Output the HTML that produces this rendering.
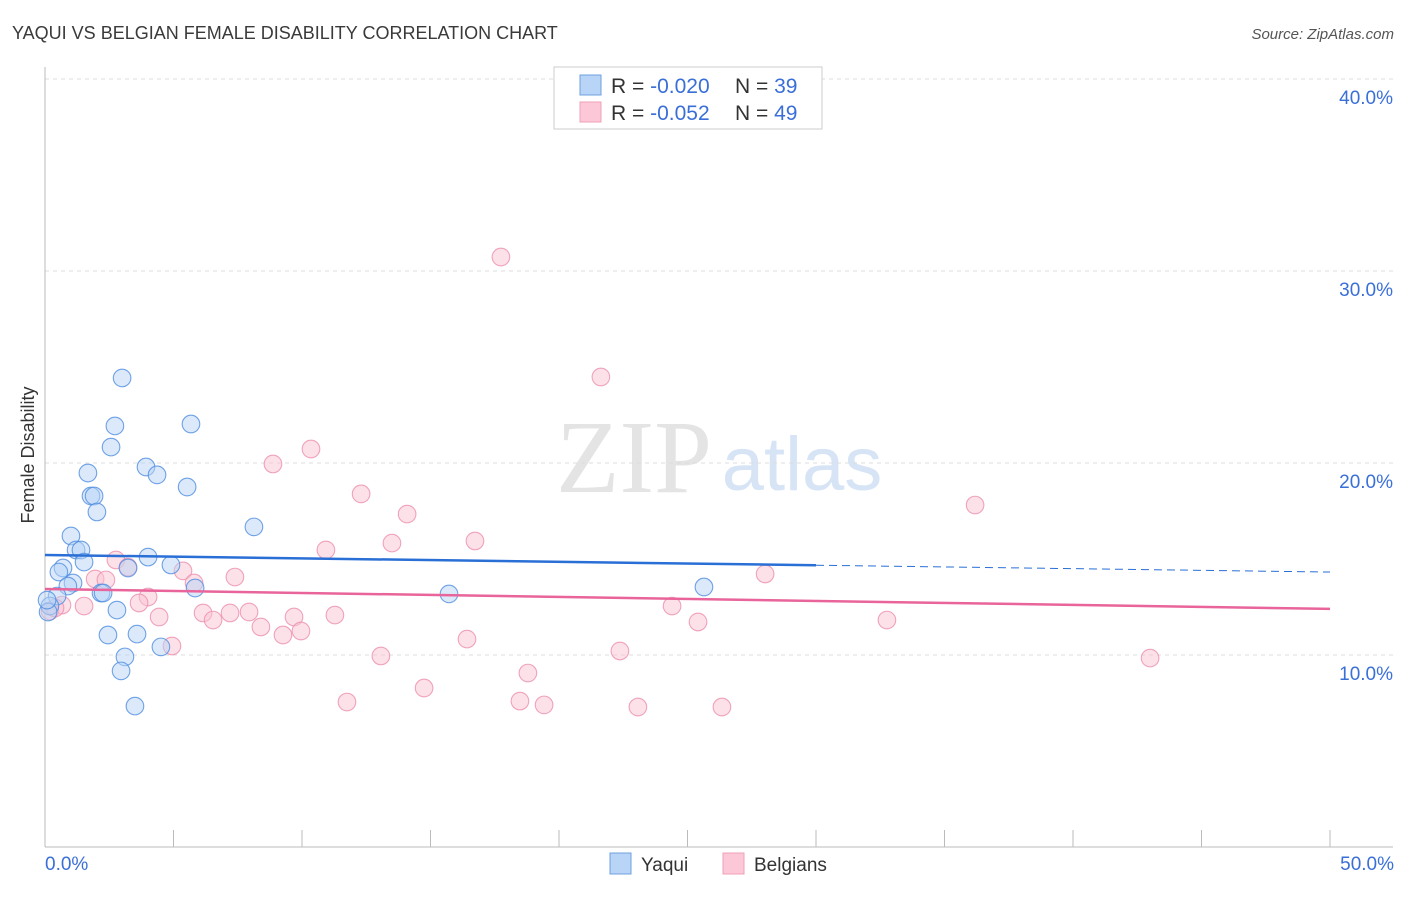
<!DOCTYPE html>
<html><head><meta charset="utf-8"><style>
body{margin:0;background:#fff;font-family:"Liberation Sans",sans-serif;}
</style></head><body>
<svg id="chart" width="1406" height="892" xmlns="http://www.w3.org/2000/svg">
<text x="12" y="39" font-size="18" fill="#3a3a3a">YAQUI VS BELGIAN FEMALE DISABILITY CORRELATION CHART</text>
<text x="1394" y="39" font-size="15" fill="#555" font-style="italic" text-anchor="end">Source: ZipAtlas.com</text>
<text x="634" y="492" font-size="104" fill="#e4e4e4" font-family="Liberation Serif,serif" text-anchor="middle">ZIP</text>
<text x="802" y="490" font-size="76" fill="#d6e4f5" text-anchor="middle">atlas</text>
<g id="grid"></g>
<line x1="45" y1="67" x2="45" y2="847" stroke="#bbb"/>
<line x1="45" y1="847" x2="1393" y2="847" stroke="#bbb"/>
<g id="ticks"></g>
<g id="points"></g>
<g id="trends"></g>
<text x="45" y="870" font-size="19" fill="#3a6fd8">0.0%</text>
<text x="1394" y="870" font-size="19" fill="#3a6fd8" text-anchor="end">50.0%</text>
<text transform="translate(34,455) rotate(-90)" font-size="18" fill="#333" text-anchor="middle">Female Disability</text>
<g>
<rect x="554" y="67" width="268" height="62" fill="#fff" stroke="#ccc"/>
<rect x="580" y="75" width="21" height="20" fill="#b8d4f6" stroke="#6fa0e0"/>
<rect x="580" y="102" width="21" height="20" fill="#fcc8d8" stroke="#f0a0b8"/>
<text x="611" y="93" font-size="21" fill="#333">R = <tspan fill="#3a6fd8">-0.020</tspan><tspan x="735">N = </tspan><tspan fill="#3a6fd8">39</tspan></text>
<text x="611" y="120" font-size="21" fill="#333">R = <tspan fill="#3a6fd8">-0.052</tspan><tspan x="735">N = </tspan><tspan fill="#3a6fd8">49</tspan></text>
</g>
<g>
<rect x="610" y="853" width="21" height="21" fill="#b8d4f6" stroke="#6fa0e0"/>
<text x="641" y="871" font-size="19" fill="#333">Yaqui</text>
<rect x="723" y="853" width="21" height="21" fill="#fcc8d8" stroke="#f0a0b8"/>
<text x="754" y="871" font-size="19" fill="#333">Belgians</text>
</g>
</svg>
<script>
const yTicks=[10,20,30,40];
const xTickVals=[0,5,10,15,20,25,30,35,40,45,50];
const yaquiX=[3.00,2.72,2.57,5.68,1.67,3.93,4.36,5.53,1.79,1.91,2.02,8.13,1.01,1.21,1.40,1.52,4.01,0.70,0.54,4.90,3.23,1.09,0.89,2.18,2.26,5.84,0.47,0.19,0.12,2.80,2.45,3.58,3.11,4.51,2.96,3.50,15.72,25.64,0.08];
const yaquiY=[24.43,21.93,20.83,22.03,19.48,19.79,19.38,18.75,18.28,18.28,17.45,16.67,16.20,15.47,15.47,14.84,15.10,14.53,14.32,14.69,14.53,13.75,13.59,13.23,13.23,13.49,13.07,12.55,12.24,12.34,11.04,11.09,9.90,10.42,9.17,7.34,13.18,13.54,12.86];
const belgX=[17.74,21.63,10.35,8.87,12.30,36.19,14.09,16.73,13.50,10.93,2.76,5.37,28.02,7.39,1.95,2.37,5.80,4.01,3.66,1.52,0.66,24.40,7.20,6.15,7.94,9.69,11.28,4.44,6.54,32.76,25.41,8.40,9.96,9.26,16.42,4.94,22.37,13.07,43.00,18.79,14.75,11.75,18.48,19.42,23.07,26.34,0.19,0.39,3.23];
const belgY=[30.73,24.48,20.73,19.95,18.39,17.81,17.34,15.94,15.83,15.47,14.95,14.38,14.22,14.06,13.96,13.91,13.75,13.02,12.71,12.55,12.60,12.55,12.19,12.19,12.24,11.98,12.08,11.98,11.82,11.82,11.72,11.46,11.25,11.04,10.83,10.47,10.21,9.95,9.84,9.06,8.28,7.55,7.60,7.40,7.29,7.29,12.29,12.45,14.58];
const yaquiTrend=[15.21,14.32];
const belgTrend=[13.44,12.40];
const NS='http://www.w3.org/2000/svg';
const X=v=>45+v*25.7, Y=v=>847-v*19.2;
function mk(t,a,p){const e=document.createElementNS(NS,t);for(const k in a)e.setAttribute(k,a[k]);document.getElementById(p).appendChild(e);return e;}
yTicks.forEach(t=>{
 const l=mk('line',{x1:45,x2:1393,y1:Y(t),y2:Y(t),stroke:'#ddd','stroke-dasharray':'4,4'},'grid');
 
 
 const tx=mk('text',{x:1393,y:Y(t)+25,'font-size':19,fill:'#3a6fd8','text-anchor':'end'},'grid');
 tx.textContent=t.toFixed(1)+'%';
 
 
});
xTickVals.forEach(t=>{
 const l=mk('line',{x1:X(t),x2:X(t),y1:830,y2:847,stroke:'#bbb'},'ticks');
 
 
});
function pts(xs,ys,fill,stroke,name){
 xs.forEach((x,i)=>{
  const c=mk('circle',{cx:X(x),cy:Y(ys[i]),r:8.8,fill:fill,'fill-opacity':0.5,stroke:stroke,'stroke-width':1.1,'stroke-opacity':0.8},'points');
  
  
 });
}
pts(belgX,belgY,'#f9c4d4','#ec8fad','belgians-point');
pts(yaquiX,yaquiY,'#b8d4f6','#4d8ce0','yaqui-point');
const ym=v=>yaquiTrend[0]+(yaquiTrend[1]-yaquiTrend[0])*v/50;
let l1=mk('line',{x1:X(0),y1:Y(ym(0)),x2:X(30),y2:Y(ym(30)),stroke:'#2a6fd6','stroke-width':2.5},'trends');


let l2=mk('line',{x1:X(30),y1:Y(ym(30)),x2:X(50),y2:Y(ym(50)),stroke:'#2a6fd6','stroke-width':1,'stroke-dasharray':'8,5'},'trends');


let l3=mk('line',{x1:X(0),y1:Y(belgTrend[0]),x2:X(50),y2:Y(belgTrend[1]),stroke:'#e8649a','stroke-width':2.5},'trends');


</script>
</body></html>
